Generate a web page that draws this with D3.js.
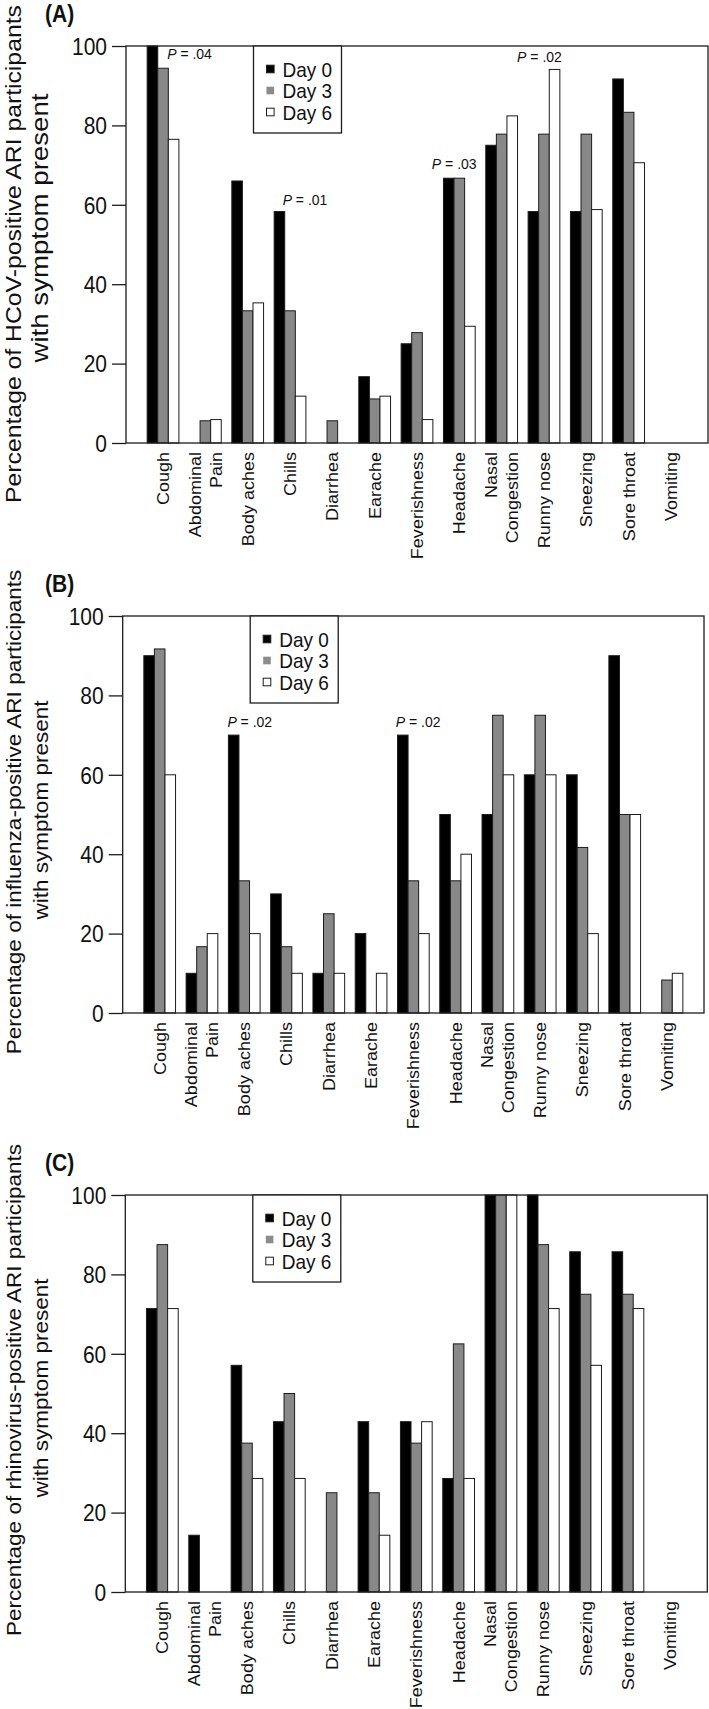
<!DOCTYPE html>
<html>
<head>
<meta charset="utf-8">
<script src="https://cdn.jsdelivr.net/npm/d3@7"></script>
<style>
  html, body { margin: 0; padding: 0; background: #fff; }
  svg { display: block; }
  text { font-family: "Liberation Sans", Arial, Helvetica, sans-serif; fill: #111; }
</style>
</head>
<body>
<svg id="chart" width="709" height="1709"></svg>
<script>
// ---------------- DATA ----------------
const categories = ["Cough", "Abdominal Pain", "Body aches", "Chills", "Diarrhea", "Earache",
  "Feverishness", "Headache", "Nasal Congestion", "Runny nose", "Sneezing", "Sore throat", "Vomiting"];
const categoryLabels = ["Cough", "Abdominal\nPain", "Body aches", "Chills", "Diarrhea", "Earache",
  "Feverishness", "Headache", "Nasal\nCongestion", "Runny nose", "Sneezing", "Sore throat", "Vomiting"];
const days = ["Day 0", "Day 3", "Day 6"];
const yTicks = [0, 20, 40, 60, 80, 100];

// Panel A: HCoV
const hcovDay0 = [100, 0, 66, 58.3, 0, 16.7, 25, 66.7, 75, 58.3, 58.3, 91.7, 0];
const hcovDay3 = [94.4, 5.6, 33.3, 33.3, 5.6, 11.1, 27.8, 66.7, 77.8, 77.8, 77.8, 83.3, 0];
const hcovDay6 = [76.5, 5.9, 35.3, 11.8, 0, 11.8, 5.9, 29.4, 82.4, 94.1, 58.8, 70.6, 0];
// Panel B: influenza
const fluDay0 = [90, 10, 70, 30, 10, 20, 70, 50, 50, 60, 60, 90, 0];
const fluDay3 = [91.7, 16.7, 33.3, 16.7, 25, 0, 33.3, 33.3, 75, 75, 41.7, 50, 8.3];
const fluDay6 = [60, 20, 20, 10, 10, 10, 20, 40, 60, 60, 20, 50, 10];
// Panel C: rhinovirus
const rhinoDay0 = [71.4, 14.3, 57.1, 42.9, 0, 42.9, 42.9, 28.6, 100, 100, 85.7, 85.7, 0];
const rhinoDay3 = [87.5, 0, 37.5, 50, 25, 25, 37.5, 62.5, 100, 87.5, 75, 75, 0];
const rhinoDay6 = [71.4, 0, 28.6, 28.6, 0, 14.3, 42.9, 28.6, 100, 71.4, 57.1, 71.4, 0];

const panelLetters = ["(A)", "(B)", "(C)"];
const titleLine1 = ["Percentage of HCoV-positive ARI participants",
  "Percentage of influenza-positive ARI participants",
  "Percentage of rhinovirus-positive ARI participants"];
const titleLine2 = "with symptom present";

// P-value annotations: category, p text, vertical level (in % units)
const pNotesA = [
  { cat: "Cough", p: ".04", level: 96.7 },
  { cat: "Chills", p: ".01", level: 60 },
  { cat: "Headache", p: ".03", level: 69 },
  { cat: "Runny nose", p: ".02", level: 96 }
];
const pNotesB = [
  { cat: "Body aches", p: ".02", level: 72 },
  { cat: "Feverishness", p: ".02", level: 72 }
];
const pNotesC = [];

// ---------------- LAYOUT / STYLE ----------------
const panels = [
  { letter: panelLetters[0], title: titleLine1[0], series: [hcovDay0, hcovDay3, hcovDay6], notes: pNotesA,
    noteDx: [20, 8.5, -11.6, -11],
    top: 46, bottom: 443, left: 126, right: 708,
    t1Size: 22.5, t1Stretch: 1.1, t1Center: 254, t2Size: 24.5, t2Stretch: 1.13, t2Center: 228 },
  { letter: panelLetters[1], title: titleLine1[1], series: [fluDay0, fluDay3, fluDay6], notes: pNotesB,
    noteDx: [-1, -1.7],
    top: 616, bottom: 1013, left: 122.7, right: 704,
    t1Size: 20.5, t1Stretch: 1.1, t1Center: 812, t2Size: 20.5, t2Stretch: 1.1, t2Center: 810 },
  { letter: panelLetters[2], title: titleLine1[2], series: [rhinoDay0, rhinoDay3, rhinoDay6], notes: pNotesC,
    noteDx: [],
    top: 1195, bottom: 1592, left: 125.3, right: 707.3,
    t1Size: 20.5, t1Stretch: 1.1, t1Center: 1390, t2Size: 20.5, t2Stretch: 1.1, t2Center: 1388 }
];
const fills = ["#000000", "#888888", "#ffffff"];
const legendFills = ["#000000", "#8c8c8c", "#ffffff"];
const STRETCH = 1.1;
const lineColor = "#1c1c1c";

const svg = d3.select("#chart");
svg.append("rect").attr("width", 709).attr("height", 1709).attr("fill", "#fff");

panels.forEach((P) => {
  const g = svg.append("g");
  const x = d3.scaleBand().domain(categories).range([P.left, P.right]).paddingInner(0.25).paddingOuter(0.5);
  const xd = d3.scaleBand().domain(days).range([0, x.bandwidth()]);
  const y = d3.scaleLinear().domain([0, 100]).range([P.bottom, P.top]);

  // bars
  const rows = [];
  categories.forEach((c, i) => days.forEach((d, k) => rows.push({ c, d, k, v: P.series[k][i] })));
  g.append("g").selectAll("rect").data(rows).join("rect")
    .attr("x", r => x(r.c) + xd(r.d))
    .attr("y", r => y(r.v))
    .attr("width", xd.bandwidth())
    .attr("height", r => y(0) - y(r.v))
    .attr("fill", r => fills[r.k])
    .attr("stroke", lineColor)
    .attr("stroke-width", 1);

  // frame
  g.append("rect")
    .attr("x", P.left).attr("y", y(100))
    .attr("width", P.right - P.left).attr("height", y(0) - y(100))
    .attr("fill", "none").attr("stroke", lineColor).attr("stroke-width", 1.3);

  // y axis
  const ax = d3.axisLeft(y).tickValues(yTicks).tickSize(14).tickPadding(5).tickFormat(d3.format("d"));
  const axG = g.append("g").attr("transform", `translate(${P.left},0)`).call(ax);
  axG.select(".domain").remove();
  axG.selectAll("line").attr("stroke", lineColor).attr("stroke-width", 1.3);
  axG.selectAll("text")
    .attr("font-size", 21)
    .attr("fill", "#111")
    .attr("font-family", '"Liberation Sans", Arial, sans-serif')
    .attr("dy", "0.36em")
    .attr("transform", `scale(1,${STRETCH})`);

  // category labels
  const lab = g.append("g").selectAll("g").data(categories).join("g")
    .attr("transform", c => `translate(${x(c) + x.bandwidth() / 2},${P.bottom + 9}) rotate(-90) scale(${STRETCH},1)`);
  lab.each(function (c, i) {
    const lines = categoryLabels[i].split("\n");
    const n = lines.length;
    const sel = d3.select(this);
    lines.forEach((ln, j) => {
      const off = (j - (n - 1) / 2) * 21;
      sel.append("text")
        .attr("x", 0)
        .attr("y", off)
        .attr("dy", "0.36em")
        .attr("text-anchor", "end")
        .attr("font-size", 16.4)
        .text(ln);
    });
  });

  // legend
  const lx = P.left + 127.5, lw = 88, lh = 87;
  const lg = g.append("g");
  lg.append("rect").attr("x", lx).attr("y", P.top).attr("width", lw).attr("height", lh)
    .attr("fill", "#fff").attr("stroke", lineColor).attr("stroke-width", 1.3);
  days.forEach((d, k) => {
    const cy = P.top + 23 + k * 21.5;
    lg.append("rect")
      .attr("x", lx + 13).attr("y", cy - 3.8).attr("width", 7.6).attr("height", 7.6)
      .attr("fill", legendFills[k])
      .attr("stroke", k === 1 ? "none" : lineColor).attr("stroke-width", 1);
    lg.append("text")
      .attr("transform", `translate(${lx + 29},${cy}) scale(1,${STRETCH})`)
      .attr("dy", "0.36em")
      .attr("font-size", 19)
      .text(d);
  });

  // P-value notes
  P.notes.forEach((n, i) => {
    const t = g.append("text")
      .attr("transform", `translate(${x(n.cat) + P.noteDx[i]},${y(n.level)}) scale(1,${STRETCH})`)
      .attr("font-size", 14);
    t.append("tspan").attr("font-style", "italic").text("P");
    t.append("tspan").text(" = " + n.p);
  });

  // panel letter
  g.append("text")
    .attr("transform", `translate(45,${P.top - 24}) scale(1,${STRETCH})`)
    .attr("font-size", 21).attr("font-weight", "bold")
    .text(P.letter);

  // y title (two lines)
  g.append("text")
    .attr("transform", `translate(21,${P.t1Center}) rotate(-90) scale(${P.t1Stretch},1)`)
    .attr("text-anchor", "middle").attr("font-size", P.t1Size)
    .text(P.title);
  g.append("text")
    .attr("transform", `translate(48,${P.t2Center}) rotate(-90) scale(${P.t2Stretch},1)`)
    .attr("text-anchor", "middle").attr("font-size", P.t2Size)
    .text(titleLine2);
});
</script>
</body>
</html>
